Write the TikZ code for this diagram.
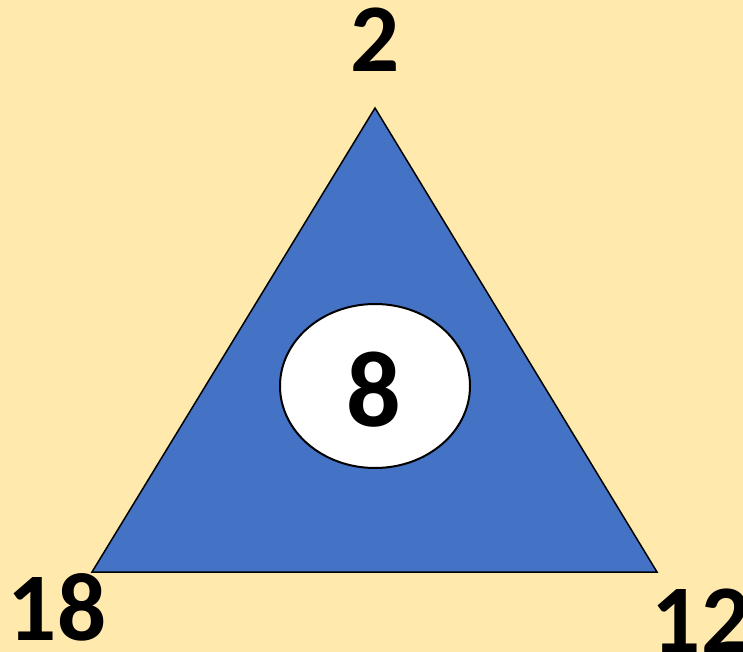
\documentclass[tikz,border=0pt]{standalone}
\usepackage{fontspec}
\setmainfont{Carlito}
\usetikzlibrary{positioning,shapes.geometric}
\definecolor{bgyel}{HTML}{FFE9AD}
\definecolor{triblue}{HTML}{4472C4}

\begin{document}
\begin{tikzpicture}[
  x=1pt, y=-1pt,
  num/.style={font=\bfseries\fontsize{97}{97}\selectfont, inner sep=0pt, anchor=base},
  tri/.style={fill=triblue, draw=black, line width=1.5pt, line join=miter},
  ctr/.style={ellipse, draw=black, fill=white, line width=2pt, minimum width=190pt, minimum height=164pt, inner sep=0pt}
]
\fill[bgyel] (0,0) rectangle (743,652);
\useasboundingbox (0,0) rectangle (743,652);
\coordinate (vt) at (375,108);
\coordinate (vl) at (92,572);
\coordinate (vr) at (657,572);
\draw[tri] (vt) -- (vl) -- (vr) -- cycle;
\node[ctr] (mid) at (375,386) {};
\node[num, font=\bfseries\fontsize{108}{108}\selectfont] (n8) at (374,426) {8};
\node[num] (n2) at (375,72) {2};
\node[num] (n18) at (57,640) {18};
\node[num] (n12) at (701,652) {12};
\end{tikzpicture}
\end{document}
